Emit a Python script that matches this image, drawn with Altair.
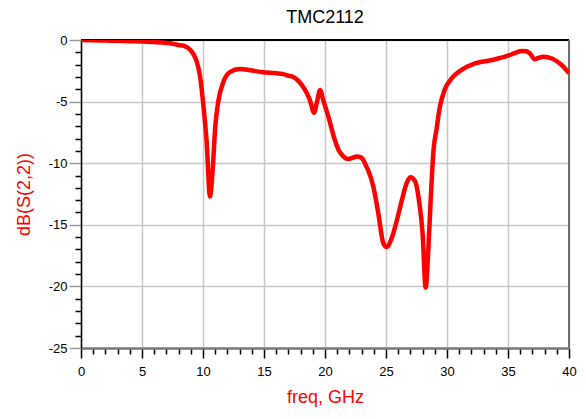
import altair as alt
import pandas as pd

freq_ghz = [0.0, 1.0, 2.0, 3.0, 4.0, 5.0, 6.0, 7.0, 7.5, 8.0, 8.5, 9.0, 9.3, 9.5, 9.75,
            10.0, 10.3, 10.57, 10.8, 11.0, 11.25, 11.67, 12.2, 13.0, 13.85, 14.9, 16.0,
            16.5, 17.0, 17.4, 17.8, 18.2, 18.5, 18.77, 19.1, 19.37, 19.6, 19.86, 20.27,
            20.8, 21.1, 21.4, 21.9, 22.3, 22.6, 22.9, 23.14, 23.4, 23.55, 23.96, 24.37,
            24.78, 25.05, 25.46, 25.9, 26.3, 26.7, 27.0, 27.4, 27.7, 28.0, 28.25, 28.47,
            28.66, 28.9, 29.15, 29.4, 29.8, 30.4, 31.2, 32.3, 33.7, 35.0, 35.6, 36.1,
            36.5, 36.8, 37.2, 37.5, 37.9, 38.6, 39.4, 40.0]
db_s22 = [0.0, -0.03, -0.05, -0.07, -0.1, -0.12, -0.17, -0.24, -0.3, -0.4, -0.5, -0.85,
          -1.3, -1.8, -2.9, -5.0, -8.3, -12.7, -10.4, -7.1, -5.0, -3.4, -2.6, -2.35,
          -2.45, -2.62, -2.7, -2.75, -2.9, -3.0, -3.3, -3.8, -4.3, -4.9, -5.9, -4.9,
          -4.06, -4.9, -6.2, -8.1, -8.9, -9.33, -9.66, -9.55, -9.45, -9.5, -9.74, -10.3,
          -10.6, -11.9, -14.07, -16.5, -16.8, -16.1, -14.6, -13.0, -11.6, -11.15, -11.5,
          -13.0, -15.7, -20.1, -17.0, -13.0, -8.9, -7.2, -5.5, -4.06, -3.1, -2.43, -1.9,
          -1.62, -1.27, -1.05, -0.89, -0.92, -1.1, -1.57, -1.45, -1.35, -1.5, -2.03, -2.7]

x_ticks = list(range(0, 41))
y_ticks = list(range(-25, 1))
title_text = "TMC2112"
x_title = "freq, GHz"
y_title = "dB(S(2,2))"

df = pd.DataFrame({"freq": freq_ghz, "db": db_s22})

major = "datum.value % 5 === 0"
FONT = "Liberation Sans"
GRID = "#c8c8c8"

x_enc = alt.X(
    "freq:Q",
    scale=alt.Scale(domain=[0, 40], nice=False, zero=False),
    axis=alt.Axis(
        values=x_ticks,
        tickCount=200,
        title=x_title,
        labelExpr="datum.value % 5 === 0 ? '' + datum.value : ''",
        labelOverlap=False,
        grid=True,
        gridColor=GRID,
        gridWidth=1.5,
        gridOpacity={"condition": {"test": major, "value": 1}, "value": 0},
        tickSize={"condition": {"test": major, "value": 10}, "value": 6},
        tickColor="#000000",
        tickWidth=1.5,
        domainColor="#7a7a7a",
        domainWidth=2.5,
        labelFont=FONT,
        labelFontSize=13,
        labelColor="#000000",
        labelPadding=7,
        labelFlush=False,
        titleFont=FONT,
        titleFontSize=18,
        titleFontWeight="normal",
        titleColor="#ff0000",
        titlePadding=10,
    ),
)

y_enc = alt.Y(
    "db:Q",
    scale=alt.Scale(domain=[-25, 0], nice=False, zero=False),
    axis=alt.Axis(
        values=y_ticks,
        tickCount=200,
        title=y_title,
        labelExpr="datum.value % 5 === 0 ? '' + datum.value : ''",
        labelOverlap=False,
        grid=True,
        gridColor=GRID,
        gridWidth=1.5,
        gridOpacity={"condition": {"test": major, "value": 1}, "value": 0},
        tickSize={"condition": {"test": major, "value": 12}, "value": 6},
        tickColor={"condition": {"test": major, "value": "#9a9a9a"}, "value": "#000000"},
        tickWidth=1.5,
        domainColor="#000000",
        domainWidth=1.5,
        labelFont=FONT,
        labelFontSize=13,
        labelColor="#000000",
        labelPadding=2,
        labelFlush=False,
        titleFont=FONT,
        titleFontSize=18,
        titleFontWeight="normal",
        titleColor="#ff0000",
        titlePadding=15,
    ),
)

line = alt.Chart(df).mark_line(
    color="#ff0000", strokeWidth=4.5, interpolate="monotone", clip=True
).encode(x=x_enc, y=y_enc)

top_border = alt.Chart(df).mark_rule(color="#000000", strokeWidth=1.5).encode(
    y=alt.datum(0)
)
right_border = alt.Chart(df).mark_rule(color="#6e6e6e", strokeWidth=2).encode(
    x=alt.datum(40)
)

chart = (
    alt.layer(top_border, right_border, line)
    .properties(
        width=488,
        height=308,
        title=alt.TitleParams(
            title_text, font=FONT, fontSize=18, fontWeight="normal",
            color="#000000", offset=7, anchor="middle",
        ),
        autosize=alt.AutoSizeParams(type="none"),
        padding={"left": 73, "top": 32, "right": 9, "bottom": 59},
    )
    .configure_view(stroke=None)
    .configure(background="#ffffff")
)

chart.save("out.html", embed_options={"renderer": "svg", "actions": False})
